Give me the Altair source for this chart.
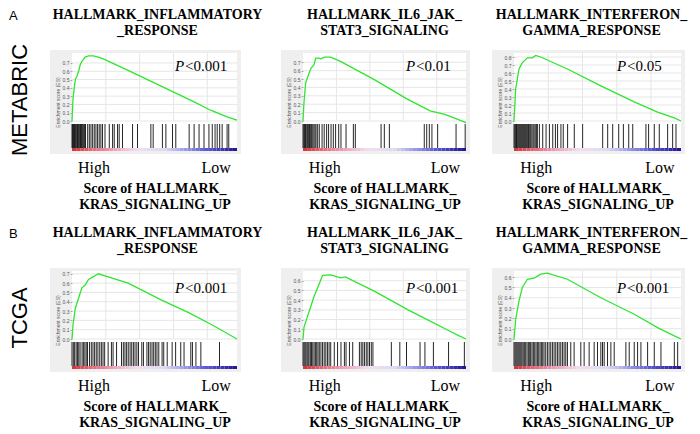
import altair as alt
import pandas as pd

SERIF = "Liberation Serif"
SANS = "Liberation Sans"

# ---------------- data ----------------
row_letters = ["A", "B"]
cohorts = ["METABRIC", "TCGA"]
titles = [["HALLMARK_INFLAMMATORY", "_RESPONSE"],
          ["HALLMARK_IL6_JAK_", "STAT3_SIGNALING"],
          ["HALLMARK_INTERFERON_", "GAMMA_RESPONSE"]]
pvals = [["<0.001", "<0.01", "<0.05"], ["<0.001", "<0.001", "<0.001"]]
axis_words = ["High", "Low"]
x_title = ["Score of HALLMARK_", "KRAS_SIGNALING_UP"]
y_title = "Enrichment score (ES)"

# running enrichment score curves (rank fraction, ES)
a1_rank = [0, 0.006, 0.02, 0.03, 0.04, 0.05, 0.06, 0.08, 0.10, 0.13, 0.16, 0.19, 0.33, 0.54, 0.74, 0.84, 0.94, 1.0]
a1_es = [0, 0.27, 0.50, 0.54, 0.60, 0.68, 0.72, 0.77, 0.785, 0.785, 0.77, 0.75, 0.62, 0.42, 0.23, 0.13, 0.05, 0.01]
a2_rank = [0, 0.006, 0.016, 0.037, 0.05, 0.068, 0.078, 0.098, 0.11, 0.13, 0.17, 0.23, 0.44, 0.64, 0.78, 0.87, 0.95, 1.0]
a2_es = [0, 0.22, 0.45, 0.57, 0.63, 0.67, 0.75, 0.75, 0.74, 0.76, 0.76, 0.71, 0.49, 0.26, 0.12, 0.08, 0.02, -0.02]
a3_rank = [0, 0.004, 0.01, 0.03, 0.05, 0.08, 0.11, 0.13, 0.16, 0.32, 0.52, 0.72, 0.86, 0.96, 1.0]
a3_es = [0, 0.15, 0.40, 0.65, 0.73, 0.79, 0.79, 0.82, 0.80, 0.65, 0.44, 0.24, 0.11, 0.04, 0.0]
b1_rank = [0, 0.006, 0.02, 0.04, 0.06, 0.08, 0.10, 0.13, 0.16, 0.195, 0.34, 0.54, 0.71, 0.85, 1.0]
b1_es = [0, 0.15, 0.33, 0.44, 0.55, 0.58, 0.64, 0.67, 0.70, 0.68, 0.60, 0.42, 0.28, 0.15, 0.0]
b2_rank = [0, 0.006, 0.027, 0.047, 0.068, 0.10, 0.12, 0.17, 0.23, 0.26, 0.44, 0.645, 0.75, 0.89, 0.955, 1.0]
b2_es = [0, 0.12, 0.23, 0.33, 0.44, 0.57, 0.655, 0.66, 0.63, 0.64, 0.49, 0.30, 0.21, 0.09, 0.035, 0.0]
b3_rank = [0, 0.01, 0.03, 0.05, 0.08, 0.12, 0.14, 0.16, 0.20, 0.32, 0.52, 0.72, 0.86, 0.96, 1.0]
b3_es = [0, 0.19, 0.37, 0.50, 0.58, 0.59, 0.61, 0.63, 0.64, 0.58, 0.40, 0.24, 0.11, 0.03, 0.0]

# gene-set hit positions (rank fraction)
a1_hits = [0.0, 0.004, 0.008, 0.012, 0.016, 0.02, 0.025, 0.03, 0.034, 0.038, 0.043, 0.048, 0.052, 0.057,
           0.062, 0.067, 0.072, 0.077, 0.082, 0.095, 0.105, 0.115, 0.125, 0.135, 0.145, 0.155, 0.165, 0.175,
           0.185, 0.2, 0.226, 0.246, 0.256, 0.276, 0.286, 0.306, 0.367, 0.397, 0.478, 0.492, 0.548, 0.569,
           0.609, 0.629, 0.71, 0.74, 0.77, 0.8, 0.83, 0.85, 0.867, 0.88, 0.895, 0.91, 0.94, 0.95]
a2_hits = [0, 0.005, 0.01, 0.015, 0.02, 0.027, 0.033, 0.04, 0.047, 0.053, 0.06, 0.067, 0.074, 0.08, 0.09,
           0.1, 0.117, 0.13, 0.145, 0.157, 0.172, 0.186, 0.2, 0.219, 0.233, 0.264, 0.309, 0.321, 0.479, 0.499,
           0.53, 0.744, 0.759, 0.775, 0.791, 0.826, 0.939, 0.995]
a3_hits = [0, 0.005, 0.01, 0.015, 0.02, 0.026, 0.032, 0.038, 0.044, 0.05, 0.056, 0.062, 0.068, 0.074, 0.08,
           0.087, 0.094, 0.1, 0.107, 0.114, 0.12, 0.127, 0.134, 0.14, 0.152, 0.172, 0.192, 0.212, 0.232, 0.248,
           0.261, 0.281, 0.295, 0.321, 0.361, 0.411, 0.531, 0.561, 0.591, 0.627, 0.655, 0.687, 0.711, 0.79,
           0.806, 0.84, 0.87, 0.92, 0.95, 0.97]
b1_hits = [0, 0.008, 0.016, 0.025, 0.033, 0.041, 0.049, 0.061, 0.069, 0.078, 0.086, 0.094, 0.106, 0.117,
           0.127, 0.137, 0.147, 0.157, 0.168, 0.178, 0.188, 0.198, 0.219, 0.239, 0.249, 0.27, 0.3, 0.311,
           0.321, 0.331, 0.341, 0.352, 0.362, 0.372, 0.382, 0.393, 0.403, 0.423, 0.433, 0.454, 0.464, 0.474,
           0.485, 0.495, 0.505, 0.515, 0.526, 0.546, 0.556, 0.577, 0.607, 0.628, 0.659, 0.679, 0.72, 0.73,
           0.751, 0.781, 0.894]
b2_hits = [0, 0.006, 0.012, 0.018, 0.025, 0.031, 0.037, 0.045, 0.052, 0.06, 0.068, 0.076, 0.084, 0.092, 0.1,
           0.11, 0.12, 0.13, 0.14, 0.15, 0.16, 0.17, 0.192, 0.212, 0.233, 0.254, 0.264, 0.285, 0.305, 0.346,
           0.357, 0.367, 0.377, 0.388, 0.398, 0.408, 0.419, 0.429, 0.542, 0.594, 0.635, 0.718, 0.748, 0.8,
           0.893, 0.99]
b3_hits = [0, 0.006, 0.012, 0.018, 0.024, 0.03, 0.036, 0.042, 0.048, 0.055, 0.062, 0.07, 0.078, 0.086, 0.094,
           0.1, 0.108, 0.116, 0.124, 0.132, 0.14, 0.148, 0.156, 0.164, 0.172, 0.18, 0.19, 0.2, 0.21, 0.22,
           0.23, 0.24, 0.25, 0.26, 0.27, 0.28, 0.29, 0.3, 0.31, 0.32, 0.34, 0.36, 0.4, 0.42, 0.45, 0.48, 0.5,
           0.52, 0.53, 0.54, 0.56, 0.58, 0.6, 0.67, 0.69, 0.72, 0.74, 0.76, 0.8, 0.84, 0.88, 0.96, 0.98]

# plot-top ES value and tick labels for each panel
y_tops = [[0.82, 0.81, 0.85], [0.73, 0.70, 0.66]]
y_ticks = [[[0, .1, .2, .3, .4, .5, .6, .7], [0, .1, .2, .3, .4, .5, .6, .7], [0, .1, .2, .3, .4, .5, .6, .7, .8]],
           [[0, .1, .2, .3, .4, .5, .6, .7], [0, .1, .2, .3, .4, .5, .6], [0, .1, .2, .3, .4, .5, .6]]]
grid_x = [0.205, 0.41, 0.615, 0.82]
bar_steps = [i / 40 for i in range(40)]
bar_stops = [0, 0.2, 0.38, 0.55, 0.8, 1.0]
bar_colors = ["#d43a3a", "#e98fa6", "#f3dcec", "#d9d9f3", "#5a5ad6", "#1c0c8c"]

curves = [[(a1_rank, a1_es), (a2_rank, a2_es), (a3_rank, a3_es)],
          [(b1_rank, b1_es), (b2_rank, b2_es), (b3_rank, b3_es)]]
hits = [[a1_hits, a2_hits, a3_hits], [b1_hits, b2_hits, b3_hits]]

# ---------------- layout ----------------
widths = [165, 163, 167]
gaps = [66, 48]
label_w = 63
CH = 68       # curve area height
H = 98        # panel height
title_dx = [3, 0, -6]
p_y = [13, 17]
STRIP = "#efefef"
GRID = "#e6e6e6"
one = pd.DataFrame({"k": [0]})


def strip(x, x2, y, y2):
    return alt.Chart(one).mark_rect(color=STRIP).encode(
        x=alt.value(x), x2=alt.value(x2), y=alt.value(y), y2=alt.value(y2))


def panel(r, c):
    w = widths[c]
    rank, es = curves[r][c]
    top = y_tops[r][c]
    lo = -top * (H - CH) / CH
    xsc = alt.Scale(domain=[0, 1], nice=False, zero=False)
    ysc = alt.Scale(domain=[lo, top], nice=False, zero=False)
    xaxis = alt.Axis(values=[0.13, 0.87],
                     labelExpr=f"datum.value < 0.5 ? '{axis_words[0]}' : '{axis_words[1]}'",
                     domain=False, ticks=False, grid=False, labelFont=SERIF, labelFontSize=16,
                     labelColor="black", labelPadding=8, labelAlign="center",
                     titleFont=SERIF, titleFontSize=14, titleFontWeight="bold", titleColor="black",
                     titleLineHeight=16, titlePadding=6)
    yaxis = alt.Axis(values=y_ticks[r][c], format=".1f", labelFontSize=5, labelColor="#555",
                     labelFont=SANS, domain=False, tickSize=2, tickColor="#aaa", grid=False,
                     labelPadding=1, titleFontSize=5, titleFont=SANS, titleColor="#555",
                     titleFontWeight="normal", titlePadding=2, zindex=1)

    def X(f):
        return alt.X(f, type="quantitative", scale=xsc, axis=xaxis, title=x_title)

    def Y(f):
        return alt.Y(f, type="quantitative", scale=ysc, axis=yaxis, title=y_title)

    frame = [strip(-22, 0, -3, H + 3), strip(-22, w + 4, -3, 0),
             strip(w, w + 4, -3, H + 3), strip(-22, w + 4, H, H + 3)]
    vgrid = alt.Chart(pd.DataFrame({"g": grid_x})).mark_rule(color=GRID, strokeWidth=1).encode(
        x=X("g"), y=alt.value(0), y2=alt.value(CH))
    hgrid = alt.Chart(pd.DataFrame({"t": y_ticks[r][c]})).mark_rule(color=GRID, strokeWidth=1).encode(
        y=Y("t"), x=alt.value(0), x2=alt.value(w))
    curve = alt.Chart(pd.DataFrame({"rank": rank, "es": es})).mark_line(
        color="#2ee62e", strokeWidth=1.3).encode(x=X("rank"), y=Y("es"))
    bars = alt.Chart(pd.DataFrame({"h": hits[r][c]})).mark_rule(
        color="black", strokeWidth=1, opacity=0.85).encode(
        x=X("h"), y=alt.value(CH + 3), y2=alt.value(H - 3))
    cb = pd.DataFrame({"s": bar_steps, "e": [s + 1 / 40 for s in bar_steps]})
    cbar = alt.Chart(cb).mark_rect().encode(
        x=X("s"), x2="e:Q", y=alt.value(H - 3), y2=alt.value(H),
        color=alt.Color("s:Q", scale=alt.Scale(domain=bar_stops, range=bar_colors), legend=None))
    pdf = pd.DataFrame({"p": ["P"], "v": [pvals[r][c]]})
    pt1 = alt.Chart(pdf).mark_text(align="left", baseline="middle", font=SERIF, fontSize=15,
                                   fontStyle="italic", color="black").encode(
        x=alt.value(103), y=alt.value(p_y[r]), text="p:N")
    pt2 = alt.Chart(pdf).mark_text(align="left", baseline="middle", font=SERIF, fontSize=15,
                                   color="black").encode(
        x=alt.value(113), y=alt.value(p_y[r]), text="v:N")
    return alt.layer(*frame, vgrid, hgrid, curve, bars, cbar, pt1, pt2).properties(
        width=w, height=H,
        title=alt.TitleParams(titles[c], font=SERIF, fontSize=14, fontWeight="bold", color="black",
                              lineHeight=16, anchor="middle", frame="group", offset=12, dx=title_dx[c]))


def label(r):
    df = pd.DataFrame({"letter": [row_letters[r]], "name": [cohorts[r]]})
    a = alt.Chart(df).mark_text(align="left", baseline="middle", font=SANS, fontSize=13,
                                color="black").encode(
        x=alt.value(0), y=alt.value(-37), text="letter:N")
    n = alt.Chart(df).mark_text(angle=270, align="center", baseline="middle", font=SANS,
                                fontSize=22, color="black").encode(
        x=alt.value(11), y=alt.value(47), text="name:N")
    return alt.layer(a, n).properties(width=label_w, height=H)


def spacer(w):
    return alt.Chart(one).mark_point(opacity=0).encode(
        x=alt.value(0), y=alt.value(0)).properties(width=w, height=H)


cells = []
for r in range(2):
    cells += [label(r), panel(r, 0), spacer(gaps[0]), panel(r, 1), spacer(gaps[1]), panel(r, 2)]

chart = alt.concat(*cells, columns=6, spacing=alt.RowColnumber(row=120, column=0),
                   bounds="flush").properties(padding=0).configure_view(stroke=None)

chart.save("out.html", embed_options={"renderer": "svg", "actions": False})
